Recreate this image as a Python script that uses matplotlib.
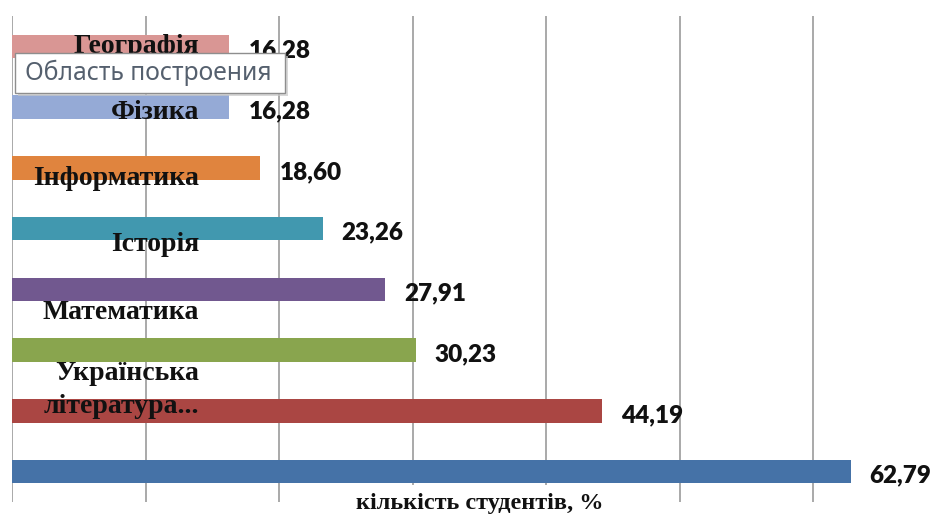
import matplotlib
matplotlib.use("Agg")
import matplotlib.pyplot as plt
import matplotlib.transforms as mtransforms
from matplotlib.patches import Rectangle

# --- data -------------------------------------------------------------
subjects = ["Географія", "Фізика", "Інформатика", "Історія", "Математика",
            "Українська\nлітература...", "", ""]
shares = [16.28, 16.28, 18.60, 23.26, 27.91, 30.23, 44.19, 62.79]
bar_colors = ["#D99694", "#95AAD6", "#E0843E", "#4198AF",
              "#71588F", "#89A54E", "#AA4643", "#4572A7"]
axis_title = "кількість студентів, %"
grid_ticks = [0, 10, 20, 30, 40, 50, 60, 70]

# --- layout -----------------------------------------------------------
W, H, DPI = 934, 517, 100
label_rows = [0.0, 1.09, 2.18, 3.26, 4.38, 5.66]   # category text rows
grid_color = "#A3A3A3"

fig = plt.figure(figsize=(W / DPI, H / DPI), dpi=DPI)
fig.patch.set_facecolor("white")

def fx(px):
    return px / W

def fy(py):
    return 1 - py / H

ax = fig.add_axes([fx(12), fy(502), 935 / W, 486 / H])
ax.set_xlim(0, 70)
ax.set_ylim(len(shares) - 0.5, -0.5)

ypos = list(range(len(shares)))
ax.barh(ypos, shares, height=0.39, color=bar_colors, zorder=3)

ax.set_xticks(grid_ticks)
ax.grid(axis="x", color=grid_color, linewidth=1.3, zorder=0)
ax.tick_params(axis="both", length=0, labelbottom=False, labelleft=False)
for side in ax.spines.values():
    side.set_visible(False)

# value labels
for y, v in zip(ypos, shares):
    ax.annotate(f"{v:.2f}".replace(".", ","), xy=(v, y), xytext=(19, -4),
                textcoords="offset pixels", ha="left", va="center",
                fontfamily="Lato", fontweight="heavy", fontsize=17.5,
                color="#111111", zorder=5)

# category labels drawn over the plot area
blend = mtransforms.blended_transform_factory(ax.transAxes, ax.transData)
for name, row in zip(subjects, label_rows):
    ax.text(187 / 935, row, name, transform=blend, ha="right", va="center",
            fontfamily="Liberation Serif", fontweight="bold", fontsize=20,
            color="#111111", linespacing=1.45, zorder=6)

# axis title under the plot area
fig.text(fx(480), fy(504), axis_title, ha="center", va="center",
         fontfamily="Liberation Serif", fontweight="bold", fontsize=17.5,
         color="#111111",
         bbox=dict(boxstyle="square,pad=0.35", facecolor="white",
                   edgecolor="none"), zorder=10)

# hover tooltip
shadow = Rectangle((fx(18), fy(96)), fx(270), 40 / H, transform=fig.transFigure,
                   facecolor="#C8C8C8", edgecolor="none", alpha=0.7, zorder=20)
tip = Rectangle((fx(15), fy(93)), fx(270), 40 / H, transform=fig.transFigure,
                facecolor="white", edgecolor="#8E8E8E", linewidth=1.0, zorder=21)
fig.add_artist(shadow)
fig.add_artist(tip)
fig.text(fx(25), fy(73), "Область построения", ha="left", va="center",
         fontfamily="Noto Sans", fontsize=17.8, color="#55606E", zorder=22)

fig.savefig("out.png", dpi=DPI, facecolor="white")
